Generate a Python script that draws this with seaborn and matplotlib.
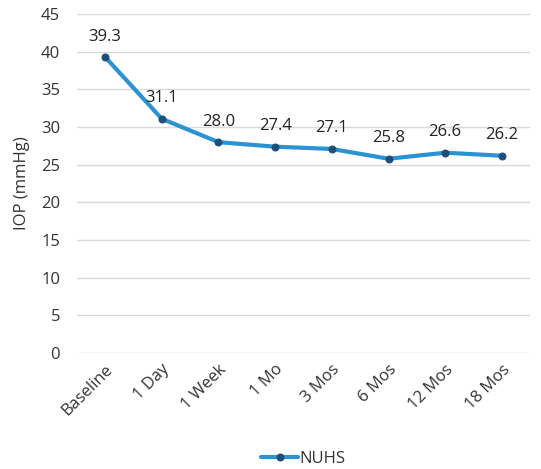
import pandas as pd
import matplotlib.pyplot as plt
import seaborn as sns

timepoints = ['Baseline', '1 Day', '1 Week', '1 Mo', '3 Mos', '6 Mos', '12 Mos', '18 Mos']
iop = [39.3, 31.1, 28.0, 27.4, 27.1, 25.8, 26.6, 26.2]
series_name = 'NUHS'

sns.set_style('white')
plt.rcParams['font.family'] = ['Open Sans', 'DejaVu Sans']

df = pd.DataFrame({'time': timepoints, 'iop': iop, 'site': series_name})

fig = plt.figure(figsize=(5.41, 4.69), dpi=100)
ax = fig.add_axes([0.142, 0.247, 0.838, 0.723])

sns.lineplot(data=df, x='time', y='iop', hue='site', palette=['#2B93D1'],
             marker='o', markersize=5, markerfacecolor='#1F4E79',
             markeredgecolor='#1F4E79', linewidth=3, sort=False, ax=ax)

for i, v in enumerate(iop):
    ax.annotate(f'{v:.1f}', (i, v), xytext=(0, 9), textcoords='offset points',
                ha='center', va='bottom', fontsize=12, color='#222222')

ax.set_ylim(0, 45)
ax.set_yticks(range(0, 46, 5))
ax.set_xlim(-0.5, len(timepoints) - 0.5)
ax.grid(axis='y', color='#D9D9D9', linewidth=1)
ax.set_axisbelow(True)
for s in ax.spines.values():
    s.set_visible(False)
ax.tick_params(axis='both', length=0, labelsize=12, colors='#333333')
ax.tick_params(axis='y', pad=12)
ax.tick_params(axis='x', pad=6)
plt.setp(ax.get_xticklabels(), rotation=45, ha='right', rotation_mode='anchor')
ax.set_xlabel('')
ax.set_ylabel('IOP (mmHg)', fontsize=12, color='#333333', labelpad=8)

leg = ax.legend(loc='lower center', bbox_to_anchor=(0.5, -0.38), frameon=False,
                fontsize=12, handlelength=2.2, handletextpad=0.1)
for t in leg.get_texts():
    t.set_color('#333333')

fig.savefig('out.png', dpi=100)
